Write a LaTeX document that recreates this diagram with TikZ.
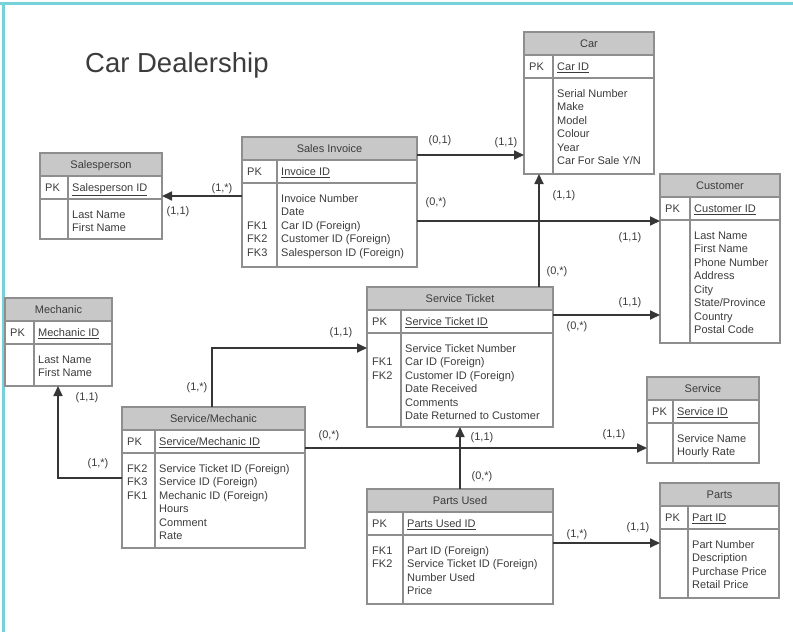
\documentclass[tikz,border=0pt]{standalone}
\usepackage{fontspec}
\setmainfont{Liberation Sans}
\usetikzlibrary{positioning, arrows.meta}
\definecolor{frameTeal}{HTML}{74D2D8}
\definecolor{headGray}{HTML}{C8C8C8}
\definecolor{lineGray}{HTML}{8E8E8E}
\definecolor{inkGray}{HTML}{3C3C3C}

\newcommand{\tblfont}{\fontsize{11}{13.5}\selectfont}
% name, top-left, width, height, divider, title, key, pk keys, attributes
\newcommand{\ertable}[9]{%
  \node[tbl, minimum width=#3, minimum height=#4, anchor=north west] (#1) at #2 {};
  \fill[headGray] (#1.north west) rectangle ([yshift=-23pt]#1.north east);
  \draw[tblline] ([yshift=-23pt]#1.north west) -- ([yshift=-23pt]#1.north east);
  \draw[tblline] ([yshift=-46pt]#1.north west) -- ([yshift=-46pt]#1.north east);
  \draw[tblline] ([xshift=#5, yshift=-23pt]#1.north west) -- ([xshift=#5]#1.south west);
  \node[hdr] at ([yshift=-15.5pt]#1.north) {#6};
  \node[fld, anchor=base west] at ([xshift=5pt, yshift=-38.5pt]#1.north west) {PK};
  \node[fld, anchor=base west] at ([xshift=#5+4pt, yshift=-38.5pt]#1.north west) {\underline{#7}};
  \node[fld, anchor=north west] at ([xshift=5pt, yshift=-56pt]#1.north west) {\rule{0pt}{9pt}#8};
  \node[fld, anchor=north west] at ([xshift=#5+4pt, yshift=-56pt]#1.north west) {\rule{0pt}{9pt}#9};
  \draw[tblline] (#1.north west) rectangle (#1.south east);
}

\begin{document}
\begin{tikzpicture}[x=1pt, y=-1pt,
    tbl/.style={inner sep=0pt, outer sep=0pt},
    tblline/.style={draw=lineGray, line width=1.1pt},
    hdr/.style={font=\tblfont, text=inkGray, inner sep=0pt, anchor=base},
    fld/.style={font=\tblfont, text=inkGray, inner sep=0pt, align=left},
    card/.style={font=\tblfont, text=inkGray, inner sep=0pt},
    arr/.style={draw=inkGray!90!black, line width=1.7pt, -{Triangle[length=10pt, width=9pt]}},
  ]
  \useasboundingbox (0,0) rectangle (793,632);
  \draw[frameTeal, line width=2.5pt] (0,3.5) -- (793,3.5);
  \draw[frameTeal, line width=2.5pt] (3.5,3.5) -- (3.5,632);

  \node[font=\fontsize{27.5}{30}\selectfont, text=inkGray, anchor=base west, inner sep=0pt]
    (title) at (85,72) {Car Dealership};

  % tables
  \ertable{car}{(524,32)}{130pt}{142pt}{29pt}{Car}{Car ID}{}
    {Serial Number\\Make\\Model\\Colour\\Year\\Car For Sale Y/N}
  \ertable{cust}{(660,174)}{120pt}{169pt}{30pt}{Customer}{Customer ID}{}
    {Last Name\\First Name\\Phone Number\\Address\\City\\State/Province\\Country\\Postal Code}
  \ertable{sales}{(40,153)}{122pt}{86pt}{28pt}{Salesperson}{Salesperson ID}{}
    {Last Name\\First Name}
  \ertable{inv}{(242,137)}{175pt}{130pt}{35pt}{Sales Invoice}{Invoice ID}{~\\~\\FK1\\FK2\\FK3}
    {Invoice Number\\Date\\Car ID (Foreign)\\Customer ID (Foreign)\\Salesperson ID (Foreign)}
  \ertable{mech}{(5,298)}{107pt}{88pt}{29pt}{Mechanic}{Mechanic ID}{}
    {Last Name\\First Name}
  \ertable{smech}{(122,407)}{183pt}{141pt}{33pt}{Service/Mechanic}{Service/Mechanic ID}{FK2\\FK3\\FK1}
    {Service Ticket ID (Foreign)\\Service ID (Foreign)\\Mechanic ID (Foreign)\\Hours\\Comment\\Rate}
  \ertable{tick}{(367,287)}{186pt}{140pt}{34pt}{Service Ticket}{Service Ticket ID}{~\\FK1\\FK2}
    {Service Ticket Number\\Car ID (Foreign)\\Customer ID (Foreign)\\Date Received\\Comments\\Date Returned to Customer}
  \ertable{serv}{(647,377)}{112pt}{86pt}{26pt}{Service}{Service ID}{}
    {Service Name\\Hourly Rate}
  \ertable{used}{(367,489)}{186pt}{115pt}{36pt}{Parts Used}{Parts Used ID}{FK1\\FK2}
    {Part ID (Foreign)\\Service Ticket ID (Foreign)\\Number Used\\Price}
  \ertable{parts}{(660,483)}{119pt}{115pt}{28pt}{Parts}{Part ID}{}
    {Part Number\\Description\\Purchase Price\\Retail Price}

  % relationships
  \draw[arr] (inv.east |- 0,155) -- (car.west |- 0,155);
  \node[card] at (440,141) {(0,1)};
  \node[card] at (506,143) {(1,1)};

  \draw[arr] (inv.west |- 0,196) -- (sales.east |- 0,196);
  \node[card] at (222,189) {(1,*)};
  \node[card] at (178,212) {(1,1)};

  \draw[arr] (inv.east |- 0,221) -- (cust.west |- 0,221);
  \node[card] at (436,203) {(0,*)};
  \node[card] at (630,238) {(1,1)};

  \draw[arr] (tick.north -| 539,0) -- (car.south -| 539,0);
  \node[card] at (564,196) {(1,1)};
  \node[card] at (557,272) {(0,*)};

  \draw[arr] (tick.east |- 0,315) -- (cust.west |- 0,315);
  \node[card] at (630,303) {(1,1)};
  \node[card] at (577,327) {(0,*)};

  \draw[arr] (smech.north -| 212,0) |- (tick.west |- 0,348);
  \node[card] at (341,333) {(1,1)};
  \node[card] at (197,388) {(1,*)};

  \draw[arr] (smech.west |- 0,478) -| (mech.south -| 58,0);
  \node[card] at (87,398) {(1,1)};
  \node[card] at (98,464) {(1,*)};

  \draw[arr] (smech.east |- 0,448) -- (serv.west |- 0,448);
  \node[card] at (329,436) {(0,*)};
  \node[card] at (614,435) {(1,1)};

  \draw[arr] (used.north -| 460,0) -- (tick.south -| 460,0);
  \node[card] at (482,438) {(1,1)};
  \node[card] at (482,477) {(0,*)};

  \draw[arr] (used.east |- 0,543) -- (parts.west |- 0,543);
  \node[card] at (577,535) {(1,*)};
  \node[card] at (638,528) {(1,1)};
\end{tikzpicture}
\end{document}
